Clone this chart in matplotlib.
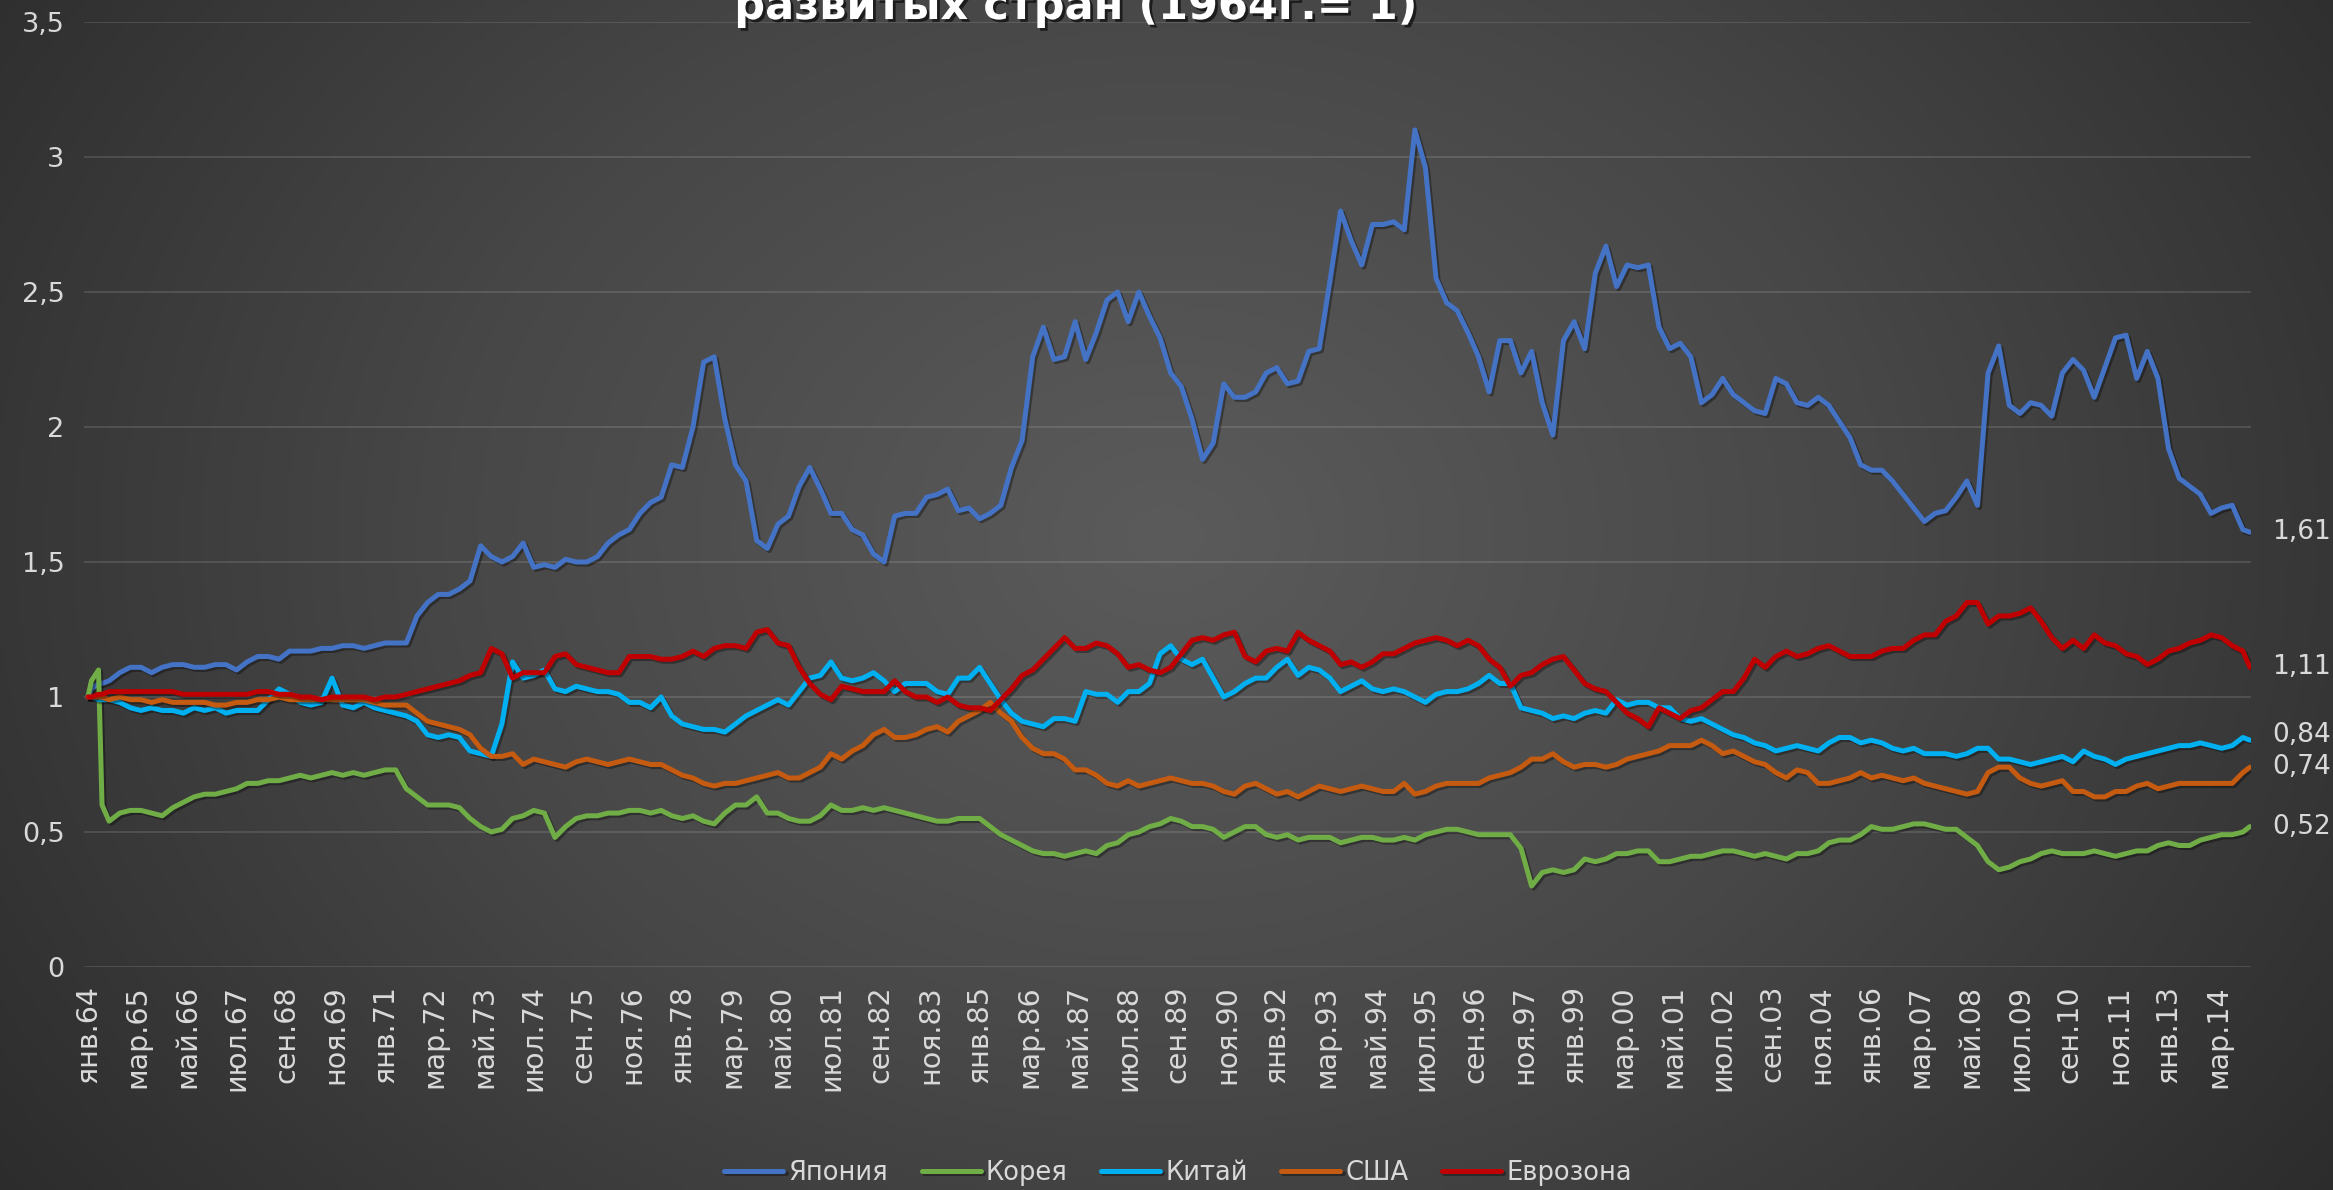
import numpy as np
import matplotlib
matplotlib.use('Agg')
import matplotlib.pyplot as plt
import matplotlib.patheffects as pe
from matplotlib.colors import LinearSegmentedColormap

# month index: 0 = янв.1964 ... 611 = дек.2014
months = [0, 1, 3, 4] + list(range(6, 610, 3)) + [611]

month_names = ['янв', 'фев', 'мар', 'апр', 'май', 'июн',
               'июл', 'авг', 'сен', 'окт', 'ноя', 'дек']

series_names = ['Япония', 'Корея', 'Китай', 'США', 'Еврозона']

japan = [1.00, 1.03, 1.05, 1.05,
         1.06, 1.09, 1.11, 1.11, 1.09, 1.11, 1.12, 1.12, 1.11, 1.11,
         1.12, 1.12, 1.10, 1.13, 1.15, 1.15, 1.14, 1.17, 1.17, 1.17, 1.18, 1.18,
         1.19, 1.19, 1.18, 1.19, 1.20, 1.20, 1.20, 1.30, 1.35, 1.38, 1.38, 1.40,
         1.43, 1.56, 1.52, 1.50, 1.52, 1.57, 1.48, 1.49, 1.48, 1.51, 1.50, 1.50,
         1.52, 1.57, 1.60, 1.62, 1.68, 1.72, 1.74, 1.86, 1.85, 2.00, 2.24, 2.26,
         2.03, 1.86, 1.80, 1.58, 1.55, 1.64, 1.67, 1.78, 1.85, 1.77, 1.68, 1.68,
         1.62, 1.60, 1.53, 1.50, 1.67, 1.68, 1.68, 1.74, 1.75, 1.77, 1.69, 1.70,
         1.66, 1.68, 1.71, 1.85, 1.95, 2.26, 2.37, 2.25, 2.26, 2.39, 2.25, 2.35,
         2.47, 2.50, 2.39, 2.50, 2.41, 2.33, 2.20, 2.15, 2.03, 1.88, 1.94, 2.16,
         2.11, 2.11, 2.13, 2.20, 2.22, 2.16, 2.17, 2.28, 2.29, 2.54, 2.80, 2.69,
         2.60, 2.75, 2.75, 2.76, 2.73, 3.10, 2.96, 2.55, 2.46, 2.43, 2.35, 2.26,
         2.13, 2.32, 2.32, 2.20, 2.28, 2.09, 1.97, 2.32, 2.39, 2.29, 2.57, 2.67,
         2.52, 2.60, 2.59, 2.60, 2.37, 2.29, 2.31, 2.26, 2.09, 2.12, 2.18, 2.12,
         2.09, 2.06, 2.05, 2.18, 2.16, 2.09, 2.08, 2.11, 2.08, 2.02, 1.96, 1.86,
         1.84, 1.84, 1.80, 1.75, 1.70, 1.65, 1.68, 1.69, 1.74, 1.80, 1.71, 2.20,
         2.30, 2.08, 2.05, 2.09, 2.08, 2.04, 2.20, 2.25, 2.21, 2.11, 2.22, 2.33,
         2.34, 2.18, 2.28, 2.18, 1.92, 1.81, 1.78, 1.75, 1.68, 1.70, 1.71, 1.62,
         1.61]

korea = [1.00, 1.06, 1.10, 0.60,
         0.54, 0.57, 0.58, 0.58, 0.57, 0.56, 0.59, 0.61, 0.63, 0.64,
         0.64, 0.65, 0.66, 0.68, 0.68, 0.69, 0.69, 0.70, 0.71, 0.70, 0.71, 0.72,
         0.71, 0.72, 0.71, 0.72, 0.73, 0.73, 0.66, 0.63, 0.60, 0.60, 0.60, 0.59,
         0.55, 0.52, 0.50, 0.51, 0.55, 0.56, 0.58, 0.57, 0.48, 0.52, 0.55, 0.56,
         0.56, 0.57, 0.57, 0.58, 0.58, 0.57, 0.58, 0.56, 0.55, 0.56, 0.54, 0.53,
         0.57, 0.60, 0.60, 0.63, 0.57, 0.57, 0.55, 0.54, 0.54, 0.56, 0.60, 0.58,
         0.58, 0.59, 0.58, 0.59, 0.58, 0.57, 0.56, 0.55, 0.54, 0.54, 0.55, 0.55,
         0.55, 0.52, 0.49, 0.47, 0.45, 0.43, 0.42, 0.42, 0.41, 0.42, 0.43, 0.42,
         0.45, 0.46, 0.49, 0.50, 0.52, 0.53, 0.55, 0.54, 0.52, 0.52, 0.51, 0.48,
         0.50, 0.52, 0.52, 0.49, 0.48, 0.49, 0.47, 0.48, 0.48, 0.48, 0.46, 0.47,
         0.48, 0.48, 0.47, 0.47, 0.48, 0.47, 0.49, 0.50, 0.51, 0.51, 0.50, 0.49,
         0.49, 0.49, 0.49, 0.44, 0.30, 0.35, 0.36, 0.35, 0.36, 0.40, 0.39, 0.40,
         0.42, 0.42, 0.43, 0.43, 0.39, 0.39, 0.40, 0.41, 0.41, 0.42, 0.43, 0.43,
         0.42, 0.41, 0.42, 0.41, 0.40, 0.42, 0.42, 0.43, 0.46, 0.47, 0.47, 0.49,
         0.52, 0.51, 0.51, 0.52, 0.53, 0.53, 0.52, 0.51, 0.51, 0.48, 0.45, 0.39,
         0.36, 0.37, 0.39, 0.40, 0.42, 0.43, 0.42, 0.42, 0.42, 0.43, 0.42, 0.41,
         0.42, 0.43, 0.43, 0.45, 0.46, 0.45, 0.45, 0.47, 0.48, 0.49, 0.49, 0.50,
         0.52]

china = [1.00, 1.00, 0.99, 0.99,
         0.99, 0.98, 0.96, 0.95, 0.96, 0.95, 0.95, 0.94, 0.96, 0.95,
         0.96, 0.94, 0.95, 0.95, 0.95, 0.99, 1.03, 1.01, 0.98, 0.97, 0.98, 1.07,
         0.97, 0.96, 0.98, 0.96, 0.95, 0.94, 0.93, 0.91, 0.86, 0.85, 0.86, 0.85,
         0.80, 0.79, 0.78, 0.90, 1.13, 1.07, 1.08, 1.10, 1.03, 1.02, 1.04, 1.03,
         1.02, 1.02, 1.01, 0.98, 0.98, 0.96, 1.00, 0.93, 0.90, 0.89, 0.88, 0.88,
         0.87, 0.90, 0.93, 0.95, 0.97, 0.99, 0.97, 1.02, 1.07, 1.08, 1.13, 1.07,
         1.06, 1.07, 1.09, 1.06, 1.02, 1.05, 1.05, 1.05, 1.02, 1.01, 1.07, 1.07,
         1.11, 1.05, 0.99, 0.94, 0.91, 0.90, 0.89, 0.92, 0.92, 0.91, 1.02, 1.01,
         1.01, 0.98, 1.02, 1.02, 1.05, 1.16, 1.19, 1.14, 1.12, 1.14, 1.07, 1.00,
         1.02, 1.05, 1.07, 1.07, 1.11, 1.14, 1.08, 1.11, 1.10, 1.07, 1.02, 1.04,
         1.06, 1.03, 1.02, 1.03, 1.02, 1.00, 0.98, 1.01, 1.02, 1.02, 1.03, 1.05,
         1.08, 1.05, 1.05, 0.96, 0.95, 0.94, 0.92, 0.93, 0.92, 0.94, 0.95, 0.94,
         0.99, 0.97, 0.98, 0.98, 0.96, 0.96, 0.92, 0.91, 0.92, 0.90, 0.88, 0.86,
         0.85, 0.83, 0.82, 0.80, 0.81, 0.82, 0.81, 0.80, 0.83, 0.85, 0.85, 0.83,
         0.84, 0.83, 0.81, 0.80, 0.81, 0.79, 0.79, 0.79, 0.78, 0.79, 0.81, 0.81,
         0.77, 0.77, 0.76, 0.75, 0.76, 0.77, 0.78, 0.76, 0.80, 0.78, 0.77, 0.75,
         0.77, 0.78, 0.79, 0.80, 0.81, 0.82, 0.82, 0.83, 0.82, 0.81, 0.82, 0.85,
         0.84]

usa = [1.00, 1.00, 1.00, 1.00,
       0.99, 1.00, 0.99, 0.99, 0.98, 0.99, 0.98, 0.98, 0.98, 0.98,
       0.97, 0.97, 0.98, 0.98, 0.99, 0.99, 1.00, 0.99, 0.99, 0.99, 0.99, 0.99,
       0.99, 0.99, 0.99, 0.98, 0.97, 0.97, 0.97, 0.94, 0.91, 0.90, 0.89, 0.88,
       0.86, 0.81, 0.78, 0.78, 0.79, 0.75, 0.77, 0.76, 0.75, 0.74, 0.76, 0.77,
       0.76, 0.75, 0.76, 0.77, 0.76, 0.75, 0.75, 0.73, 0.71, 0.70, 0.68, 0.67,
       0.68, 0.68, 0.69, 0.70, 0.71, 0.72, 0.70, 0.70, 0.72, 0.74, 0.79, 0.77,
       0.80, 0.82, 0.86, 0.88, 0.85, 0.85, 0.86, 0.88, 0.89, 0.87, 0.91, 0.93,
       0.95, 0.98, 0.94, 0.91, 0.85, 0.81, 0.79, 0.79, 0.77, 0.73, 0.73, 0.71,
       0.68, 0.67, 0.69, 0.67, 0.68, 0.69, 0.70, 0.69, 0.68, 0.68, 0.67, 0.65,
       0.64, 0.67, 0.68, 0.66, 0.64, 0.65, 0.63, 0.65, 0.67, 0.66, 0.65, 0.66,
       0.67, 0.66, 0.65, 0.65, 0.68, 0.64, 0.65, 0.67, 0.68, 0.68, 0.68, 0.68,
       0.70, 0.71, 0.72, 0.74, 0.77, 0.77, 0.79, 0.76, 0.74, 0.75, 0.75, 0.74,
       0.75, 0.77, 0.78, 0.79, 0.80, 0.82, 0.82, 0.82, 0.84, 0.82, 0.79, 0.80,
       0.78, 0.76, 0.75, 0.72, 0.70, 0.73, 0.72, 0.68, 0.68, 0.69, 0.70, 0.72,
       0.70, 0.71, 0.70, 0.69, 0.70, 0.68, 0.67, 0.66, 0.65, 0.64, 0.65, 0.72,
       0.74, 0.74, 0.70, 0.68, 0.67, 0.68, 0.69, 0.65, 0.65, 0.63, 0.63, 0.65,
       0.65, 0.67, 0.68, 0.66, 0.67, 0.68, 0.68, 0.68, 0.68, 0.68, 0.68, 0.72,
       0.74]

euro = [1.00, 1.00, 1.01, 1.01,
        1.02, 1.02, 1.02, 1.02, 1.02, 1.02, 1.02, 1.01, 1.01, 1.01,
        1.01, 1.01, 1.01, 1.01, 1.02, 1.02, 1.01, 1.01, 1.00, 1.00, 0.99, 1.00,
        1.00, 1.00, 1.00, 0.99, 1.00, 1.00, 1.01, 1.02, 1.03, 1.04, 1.05, 1.06,
        1.08, 1.09, 1.18, 1.16, 1.07, 1.09, 1.09, 1.09, 1.15, 1.16, 1.12, 1.11,
        1.10, 1.09, 1.09, 1.15, 1.15, 1.15, 1.14, 1.14, 1.15, 1.17, 1.15, 1.18,
        1.19, 1.19, 1.18, 1.24, 1.25, 1.20, 1.19, 1.11, 1.05, 1.01, 0.99, 1.04,
        1.03, 1.02, 1.02, 1.02, 1.06, 1.02, 1.00, 1.00, 0.98, 1.00, 0.97, 0.96,
        0.96, 0.95, 0.99, 1.03, 1.08, 1.10, 1.14, 1.18, 1.22, 1.18, 1.18, 1.20,
        1.19, 1.16, 1.11, 1.12, 1.10, 1.09, 1.11, 1.16, 1.21, 1.22, 1.21, 1.23,
        1.24, 1.15, 1.13, 1.17, 1.18, 1.17, 1.24, 1.21, 1.19, 1.17, 1.12, 1.13,
        1.11, 1.13, 1.16, 1.16, 1.18, 1.20, 1.21, 1.22, 1.21, 1.19, 1.21, 1.19,
        1.14, 1.11, 1.04, 1.08, 1.09, 1.12, 1.14, 1.15, 1.10, 1.05, 1.03, 1.02,
        0.98, 0.94, 0.92, 0.89, 0.96, 0.94, 0.92, 0.95, 0.96, 0.99, 1.02, 1.02,
        1.07, 1.14, 1.11, 1.15, 1.17, 1.15, 1.16, 1.18, 1.19, 1.17, 1.15, 1.15,
        1.15, 1.17, 1.18, 1.18, 1.21, 1.23, 1.23, 1.28, 1.30, 1.35, 1.35, 1.27,
        1.30, 1.30, 1.31, 1.33, 1.28, 1.22, 1.18, 1.21, 1.18, 1.23, 1.20, 1.19,
        1.16, 1.15, 1.12, 1.14, 1.17, 1.18, 1.20, 1.21, 1.23, 1.22, 1.19, 1.17,
        1.11]

colors = ['#4472C4', '#70AD47', '#00B0F0', '#C55A11', '#C00000']

all_series = [japan, korea, china, usa, euro]
for nm, s in zip(series_names, all_series):
    if len(s) != len(months):
        raise ValueError('%s: %d values, %d months' % (nm, len(s), len(months)))

W_PX, H_PX = 2333, 1190
fig = plt.figure(figsize=(W_PX / 100, H_PX / 100), dpi=100)

# radial grey background like the Excel chart area
gy, gx = np.mgrid[0:1:300j, 0:1:600j]
r = np.sqrt(((gx - 0.5) / 0.62) ** 2 + ((gy - 0.45) / 0.95) ** 2)
bg_cmap = LinearSegmentedColormap.from_list('bg', ['#5b5b5b', '#474747', '#2c2c2c'])
bgax = fig.add_axes([0, 0, 1, 1], zorder=-10)
bgax.imshow(np.clip(r, 0, 1), cmap=bg_cmap, vmin=0, vmax=1, aspect='auto',
            extent=[0, 1, 0, 1], origin='upper')
bgax.axis('off')

ax = fig.add_axes([84 / W_PX, 1 - 967 / H_PX, (2251 - 84) / W_PX, (967 - 22) / H_PX])
ax.set_facecolor('none')
for sp in ax.spines.values():
    sp.set_visible(False)

shadow = [pe.SimpleLineShadow(offset=(1.5, -1.5), shadow_color='black', alpha=0.35),
          pe.Normal()]
lines = []
for nm, s, c in zip(series_names, all_series, colors):
    ln, = ax.plot(months, s, color=c, lw=3.6, solid_joinstyle='round',
                  solid_capstyle='round', label=nm, path_effects=shadow)
    lines.append(ln)

# value labels at the last point
label_dy = [0, 0, 4, 0, 0]
for s, c, dy in zip(all_series, colors, label_dy):
    ax.annotate(('%.2f' % s[-1]).replace('.', ','), xy=(months[-1], s[-1]),
                xytext=(16, dy), textcoords='offset points', va='center', ha='left',
                color='#d9d9d9', fontsize=19, annotation_clip=False)

ax.set_xlim(-1.1, 611.3)
ax.set_ylim(0, 3.5)
ax.set_yticks(np.arange(0, 3.51, 0.5))
ax.set_yticklabels([('%g' % v).replace('.', ',') for v in np.arange(0, 3.51, 0.5)])
tick_pos = list(range(0, 612, 14))
ax.set_xticks(tick_pos)
ax.set_xticklabels(['%s.%02d' % (month_names[m % 12], (64 + m // 12) % 100) for m in tick_pos],
                   rotation=90)
ax.tick_params(axis='both', length=0, colors='#d9d9d9')
ax.tick_params(axis='x', labelsize=20.5, pad=13)
ax.tick_params(axis='y', labelsize=19.5, pad=14)
ax.yaxis.grid(True, color='white', alpha=0.13, lw=1.3)
ax.set_axisbelow(True)

fig.legend(handles=lines, loc='lower center', bbox_to_anchor=(0.505, -0.016), ncol=5,
           frameon=False, fontsize=18.5, handlelength=2.3, handletextpad=0.2,
           columnspacing=1.3, labelcolor='#d9d9d9')

fig.text(0.461, 0.984, 'развитых стран (1964г.= 1)', ha='center', va='baseline',
         fontsize=31, fontweight='bold', color='white',
         path_effects=[pe.withSimplePatchShadow(offset=(2, -2), shadow_rgbFace='black', alpha=0.6)])

fig.savefig('out.png', dpi=100)
